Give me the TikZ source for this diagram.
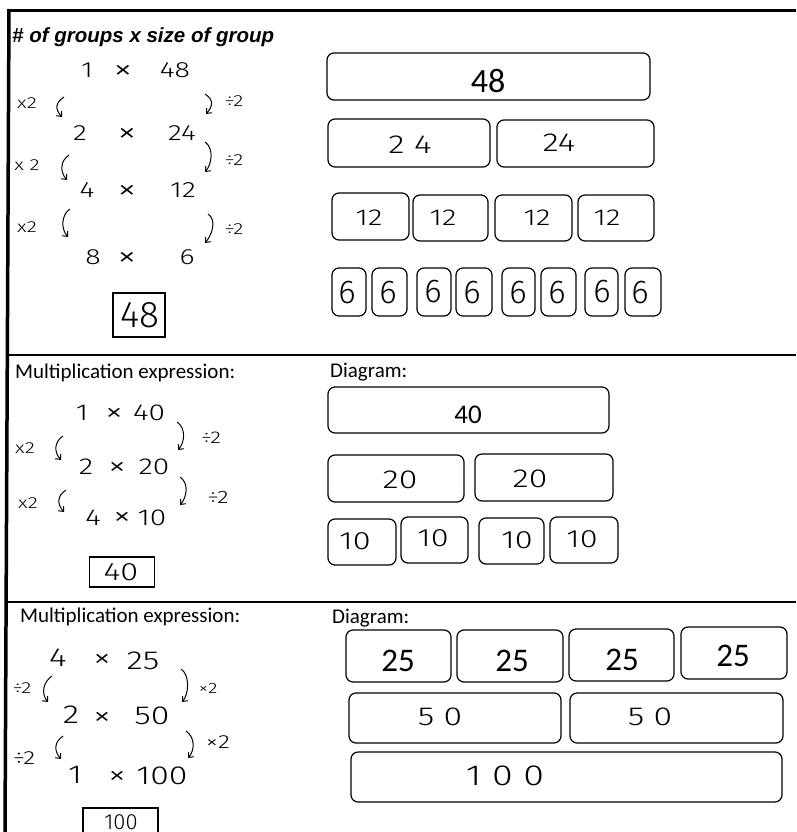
\documentclass[tikz,border=0pt]{standalone}
\usepackage{fontspec}
\setmainfont{Carlito}
\newfontfamily\hand[FakeStretch=1.3]{Fira Sans Light}
\newfontfamily\handn{Fira Sans Light}
\newfontfamily\marker{Liberation Sans}
\usetikzlibrary{arrows.meta,calc}
\tikzset{
  bar/.style={draw, line width=1.2pt, rounded corners=7pt, inner sep=0pt},
  ans/.style={draw, line width=1.1pt, inner sep=0pt},
  typed/.style={inner sep=0pt, font=\fontsize{#1}{#1}\selectfont},
  hw/.style={inner sep=0pt, font=\hand\fontsize{#1}{#1}\selectfont},
  hn/.style={inner sep=0pt, font=\handn\fontsize{#1}{#1}\selectfont},
  harr/.style={line width=1pt, -{Straight Barb[length=4pt,width=7pt]}},
  divider/.style={line width=1.3pt},
  frameline/.style={line width=3.5pt},
}
\newcommand\rbox[5]{\node[bar, minimum width={#3-#1}, minimum height={#4-#2}] (#5) at ({(#1+#3)/2},{(#2+#4)/2}) {};}
\newcommand\larr[3]{\coordinate (#1s) at #2; \coordinate (#1e) at #3;
  \draw[harr] (#1s) .. controls ($(#1s)+(-9,6)$) and ($(#1e)+(-7,-8)$) .. (#1e);}
\newcommand\rarr[3]{\coordinate (#1s) at #2; \coordinate (#1e) at #3;
  \draw[harr] (#1s) .. controls ($(#1s)+(9,6)$) and ($(#1e)+(7,-8)$) .. (#1e);}
\begin{document}
\begin{tikzpicture}[x=1pt,y=-1pt]
\useasboundingbox (0,0) rectangle (796,832);
\clip (0,0) rectangle (796,832);
\fill[white] (0,0) rectangle (796,832);
% frame and dividers
\draw[frameline] (7,10.5) -- (796,10.5);
\draw[frameline] (9,9) -- (5,832);
\draw[divider] (9,355) -- (796,355);
\draw[divider] (7,602) -- (796,602);

% ===== Section 1 =====
\node[anchor=base west, inner sep=0pt, font=\marker\bfseries\itshape\fontsize{20.5}{20}\selectfont] (hdr) at (12,43) {\# of groups x size of group};
\node[hw=22] (a1) at (87,70) {1};
\node[hw=30] (a2) at (123,72) {×};
\node[hw=22] (a3) at (175,70) {48};
\node[hw=22] (b1) at (80,133) {2};
\node[hw=30] (b2) at (127,135) {×};
\node[hw=22] (b3) at (182,133) {24};
\node[hw=22] (c1) at (87,190) {4};
\node[hw=30] (c2) at (127,192) {×};
\node[hw=22] (c3) at (183,190) {12};
\node[hw=22] (d1) at (93,257) {8};
\node[hw=30] (d2) at (127,259) {×};
\node[hw=22] (d3) at (187,257) {6};
\node[hw=16] (lx1) at (27,103) {x2};
\node[hw=16] (lx2) at (27,165) {x 2};
\node[hw=16] (lx3) at (27,227) {x2};
\node[hw=16] (ld1) at (234,101) {÷2};
\node[hw=16] (ld2) at (234,160) {÷2};
\node[hw=16] (ld3) at (234,229) {÷2};
\larr{sl1}{(64,97)}{(62,117)}
\larr{sl2}{(69,155)}{(67,180)}
\larr{sl3}{(70,209)}{(68,237)}
\rarr{sr1}{(205,94)}{(206,114)}
\rarr{sr2}{(205,142)}{(205,172)}
\rarr{sr3}{(208,214)}{(205,243)}
\node[ans, minimum width=52, minimum height=44] (ans1) at (139,315) {};
\node[hn=37] (ans1t) at (140,315) {48};

% diagram 1
\rbox{327}{53}{650}{100}{p48}
\node[typed=34] (t48) at (488,81) {48};
\rbox{328}{119}{490}{167}{p24a}
\rbox{497}{120}{654}{167}{p24b}
\node[hw=26] (t24a) at (410,145) {2 4};
\node[hw=26] (t24b) at (559,143) {24};
\rbox{332}{193}{409}{240}{p12a}
\rbox{413}{195}{488}{241}{p12b}
\rbox{495}{195}{572}{241}{p12c}
\rbox{578}{195}{654}{241}{p12d}
\node[hw=23] (t12a) at (369,218) {12};
\node[hw=23] (t12b) at (443,218) {12};
\node[hw=23] (t12c) at (537,218) {12};
\node[hw=23] (t12d) at (607,218) {12};
\rbox{332}{268}{366}{316}{p6a}
\rbox{372}{268}{407}{316}{p6b}
\rbox{417}{268}{451}{316}{p6c}
\rbox{456}{268}{492}{316}{p6d}
\rbox{502}{268}{535}{316}{p6e}
\rbox{541}{268}{576}{316}{p6f}
\rbox{585}{268}{618}{316}{p6g}
\rbox{625}{268}{661}{316}{p6h}
\node[hn=33] (t6a) at (347,293) {6};
\node[hn=33] (t6b) at (388,293) {6};
\node[hn=33] (t6c) at (433,292) {6};
\node[hn=33] (t6d) at (472,293) {6};
\node[hn=33] (t6e) at (518,293) {6};
\node[hn=33] (t6f) at (557,293) {6};
\node[hn=33] (t6g) at (602,292) {6};
\node[hn=33] (t6h) at (640,293) {6};

% ===== Section 2 =====
\node[typed=21, anchor=west] (me2) at (15,373) {Multiplication expression:};
\node[typed=21, anchor=west] (dg2) at (330,372) {Diagram:};
\node[hw=23] (e1) at (82,413) {1};
\node[hw=28] (e2) at (114,415) {×};
\node[hw=23] (e3) at (149,413) {40};
\node[hw=23] (f1) at (86,467) {2};
\node[hw=28] (f2) at (117,469) {×};
\node[hw=23] (f3) at (154,467) {20};
\node[hw=23] (g1) at (93,518) {4};
\node[hw=28] (g2) at (122,519) {×};
\node[hw=23] (g3) at (152,518) {10};
\node[hw=16] (mx1) at (25,448) {x2};
\node[hw=16] (mx2) at (28,503) {x2};
\node[hw=17] (md1) at (211,438) {÷2};
\node[hw=18] (md2) at (218,497) {÷2};
\larr{tl1}{(63,436)}{(61,460)}
\larr{tl2}{(66,490)}{(64,512)}
\rarr{tr1}{(177,422)}{(178,450)}
\rarr{tr2}{(180,477)}{(180,505)}
\node[ans, minimum width=65, minimum height=30] (ans2) at (122,572) {};
\node[hw=25] (ans2t) at (121,572) {40};

\rbox{328}{387}{609}{433}{q40}
\node[typed=27] (t40) at (468,415) {40};
\rbox{328}{455}{464}{502}{q20a}
\rbox{475}{454}{613}{501}{q20b}
\node[hw=26] (t20a) at (400,480) {20};
\node[hw=26] (t20b) at (530,479) {20};
\rbox{328}{519}{396}{565}{q10a}
\rbox{401}{517}{468}{563}{q10b}
\rbox{479}{518}{544}{564}{q10c}
\rbox{550}{517}{618}{563}{q10d}
\node[hw=25] (t10a) at (355,541) {10};
\node[hw=25] (t10b) at (433,538) {10};
\node[hw=25] (t10c) at (517,540) {10};
\node[hw=25] (t10d) at (582,539) {10};

% ===== Section 3 =====
\node[typed=21, anchor=west] (me3) at (20,617) {Multiplication expression:};
\node[typed=21, anchor=west] (dg3) at (332,618) {Diagram:};
\node[hw=26] (h1) at (58,658) {4};
\node[hw=28] (h2) at (102,661) {×};
\node[hw=26] (h3) at (143,661) {25};
\node[hw=26] (i1) at (71,715) {2};
\node[hw=28] (i2) at (102,719) {×};
\node[hw=26] (i3) at (152,716) {50};
\node[hw=26] (j1) at (75,775) {1};
\node[hw=28] (j2) at (117,778) {×};
\node[hw=26] (j3) at (162,776) {100};
\node[hw=16] (nd1) at (22,688) {÷2};
\node[hw=19] (nd2) at (24,758) {÷2};
\node[hw=15] (nx1) at (208,688) {×2};
\node[hw=19] (nx2) at (218,742) {×2};
\larr{ul1}{(52,676)}{(48,702)}
\larr{ul2}{(63,736)}{(61,759)}
\rarr{ur1}{(181,669)}{(182,702)}
\rarr{ur2}{(186,731)}{(188,758)}
\node[ans, minimum width=75, minimum height=44] (ans3) at (120.5,830) {};
\node[hn=22] (ans3t) at (121,822.5) {100};

\rbox{346}{630}{451}{682}{r25a}
\rbox{457}{630}{563}{682}{r25b}
\rbox{569}{629}{674}{681}{r25c}
\rbox{681}{627}{787}{679}{r25d}
\node[typed=33] (t25a) at (398,661) {25};
\node[typed=33] (t25b) at (512,661) {25};
\node[typed=33] (t25c) at (622,660) {25};
\node[typed=33] (t25d) at (733,656) {25};
\rbox{349}{693}{561}{743}{r50a}
\rbox{570}{693}{783}{743}{r50b}
\node[hw=26] (t50a) at (440,717) {5 0};
\node[hw=26] (t50b) at (650,717) {5 0};
\rbox{351}{752}{782}{802}{r100}
\node[hw=29] (t100) at (505,776) {1 0 0};
\end{tikzpicture}
\end{document}
